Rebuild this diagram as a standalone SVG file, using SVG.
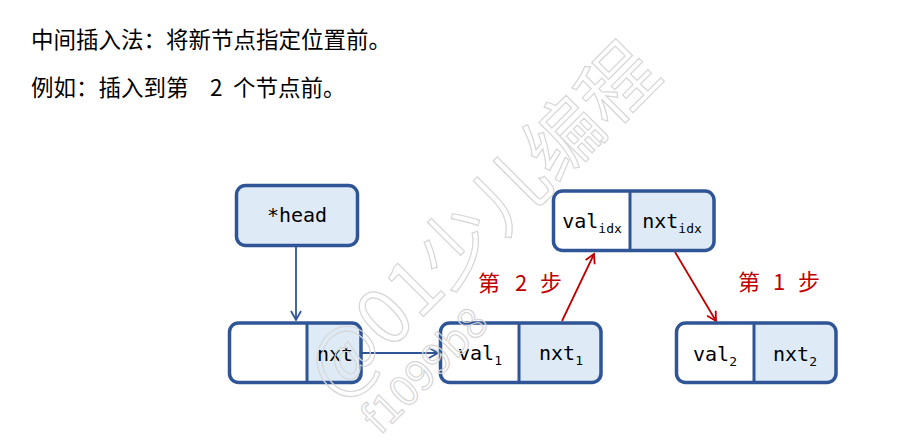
<svg xmlns="http://www.w3.org/2000/svg" width="919" height="443" viewBox="0 0 919 443">
<style>
.cap{font-family:"Microsoft YaHei","Noto Sans CJK SC",sans-serif;font-size:22.5px;fill:#000}
.step{font-family:"Noto Sans CJK SC",sans-serif;font-size:22px;fill:#C00000}
.mono{font-family:"DejaVu Sans Mono","Liberation Mono",monospace;font-size:20px;fill:#000;text-anchor:middle}
.sub{font-size:13px}
.box{stroke:#2F5597;stroke-width:3.5}
.div{stroke:#2F5597;stroke-width:3}
.lt{fill:#DEEBF7}
.wh{fill:#FFFFFF}
.wm{font-family:"Noto Sans CJK SC",sans-serif;fill:none;stroke:#D6D6D6;stroke-width:1.2}
</style>
<defs>
<marker id="ab" markerWidth="12" markerHeight="12" refX="10" refY="6" orient="auto" markerUnits="userSpaceOnUse">
<path d="M1,1 L10,6 L1,11" fill="none" stroke="#2F5597" stroke-width="1.8"/>
</marker>
<marker id="ar" markerWidth="12" markerHeight="12" refX="10" refY="6" orient="auto" markerUnits="userSpaceOnUse">
<path d="M1,1 L10,6 L1,11" fill="none" stroke="#C00000" stroke-width="1.8"/>
</marker>
</defs>
<rect width="919" height="443" fill="#FFFFFF"/>
<g id="caption">
<text class="cap" x="31" y="48">中间插入法：将新节点指定位置前。</text>
<text class="cap" y="96"><tspan x="31">例如：插入到第</tspan><tspan x="210">2</tspan><tspan x="233">个节点前。</tspan></text>
</g>
<g id="connectors">
<line x1="296" y1="247" x2="296" y2="320" stroke="#2F5597" stroke-width="1.8" marker-end="url(#ab)"/>
<line x1="362" y1="353" x2="438" y2="353" stroke="#2F5597" stroke-width="1.8" marker-end="url(#ab)"/>
<line x1="562" y1="321" x2="594" y2="254" stroke="#C00000" stroke-width="1.8" marker-end="url(#ar)"/>
<line x1="675" y1="252" x2="716" y2="321" stroke="#C00000" stroke-width="1.8" marker-end="url(#ar)"/>
</g>
<g id="step2"><text class="step" y="291"><tspan x="478">第</tspan><tspan x="515">2</tspan><tspan x="540">步</tspan></text></g>
<g id="step1"><text class="step" y="290"><tspan x="738">第</tspan><tspan x="773">1</tspan><tspan x="798">步</tspan></text></g>
<g id="head">
<rect class="box lt" x="236.5" y="185.5" width="121" height="60" rx="9"/>
<text class="mono" x="297" y="222">*head</text>
</g>
<g id="node0">
<path class="wh" d="M307,323 H238 a9,9 0 0 0 -9,9 V373 a9,9 0 0 0 9,9 H307 Z"/>
<path class="lt" d="M307,323 H352 a9,9 0 0 1 9,9 V373 a9,9 0 0 1 -9,9 H307 Z"/>
<rect class="box" fill="none" x="229.5" y="323" width="131.5" height="59.5" rx="9"/>
<line class="div" x1="307" y1="323" x2="307" y2="382.5"/>
<text class="mono" x="335" y="361">nxt</text>
</g>
<g id="node1">
<path class="wh" d="M519,323 H449 a9,9 0 0 0 -9,9 V373 a9,9 0 0 0 9,9 H519 Z"/>
<path class="lt" d="M519,323 H592 a9,9 0 0 1 9,9 V373 a9,9 0 0 1 -9,9 H519 Z"/>
<rect class="box" fill="none" x="440.5" y="323" width="160.5" height="59.5" rx="9"/>
<line class="div" x1="519" y1="323" x2="519" y2="382.5"/>
<text class="mono" x="480" y="360">val<tspan class="sub" dy="5">1</tspan></text>
<text class="mono" x="561" y="360">nxt<tspan class="sub" dy="5">1</tspan></text>
</g>
<g id="nodeidx">
<path class="wh" d="M630,191 H562 a9,9 0 0 0 -9,9 V241 a9,9 0 0 0 9,9 H630 Z"/>
<path class="lt" d="M630,191 H705 a9,9 0 0 1 9,9 V241 a9,9 0 0 1 -9,9 H630 Z"/>
<rect class="box" fill="none" x="553.5" y="191" width="160.5" height="59.5" rx="9"/>
<line class="div" x1="630" y1="191" x2="630" y2="250.5"/>
<text class="mono" x="592" y="228">val<tspan class="sub" dy="5">idx</tspan></text>
<text class="mono" x="672" y="228">nxt<tspan class="sub" dy="5">idx</tspan></text>
</g>
<g id="node2">
<path class="wh" d="M754,323 H685 a9,9 0 0 0 -9,9 V373 a9,9 0 0 0 9,9 H754 Z"/>
<path class="lt" d="M754,323 H827 a9,9 0 0 1 9,9 V373 a9,9 0 0 1 -9,9 H754 Z"/>
<rect class="box" fill="none" x="676.5" y="323" width="159.5" height="59.5" rx="9"/>
<line class="div" x1="754" y1="323" x2="754" y2="382.5"/>
<text class="mono" x="715" y="361">val<tspan class="sub" dy="5">2</tspan></text>
<text class="mono" x="795" y="361">nxt<tspan class="sub" dy="5">2</tspan></text>
</g>
<g id="watermark">
<text class="wm" font-size="76" transform="translate(338,402) rotate(-45)">@01少儿编程</text>
<text class="wm" font-size="42" transform="translate(380,436) rotate(-45)">f1099b8</text>
</g>
</svg>
